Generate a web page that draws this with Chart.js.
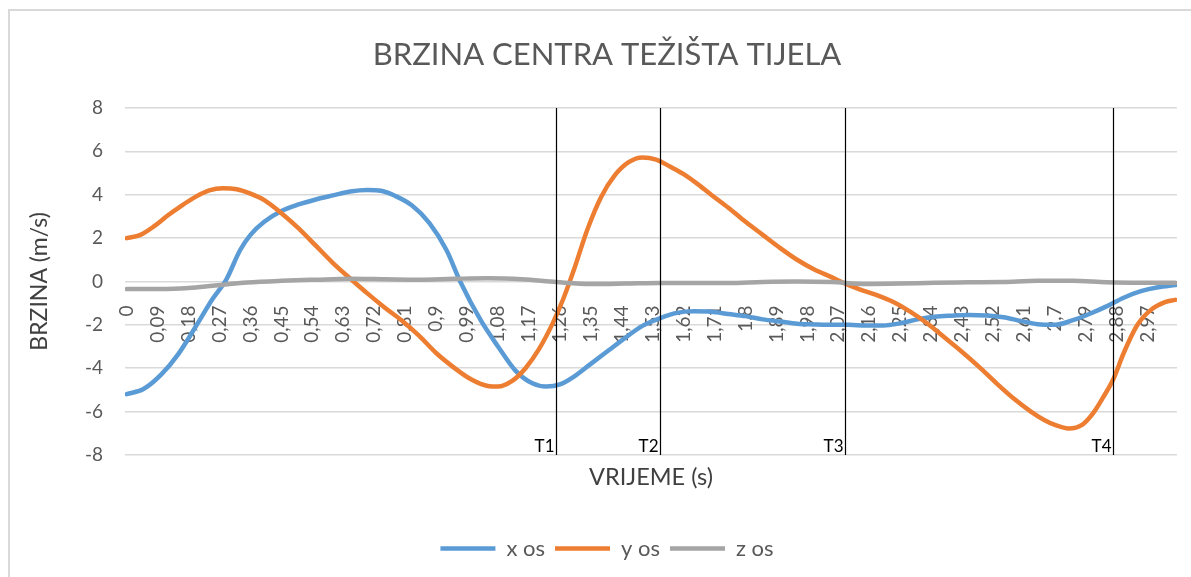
<!DOCTYPE html>
<html>
<head>
<meta charset="utf-8">
<title>Brzina centra težišta tijela</title>
<script src="https://cdn.jsdelivr.net/npm/chart.js@4.4.1/dist/chart.umd.min.js"></script>
<style>
  body { margin: 0; background: #fff; overflow: hidden; }
  #frame { position: absolute; left: 8px; top: 9px; width: 1400px; height: 800px;
           border-left: 2px solid #d9d9d9; border-top: 2px solid #d9d9d9; }
  #wrap { position: absolute; left: 0; top: 0; width: 1191px; height: 577px; }
</style>
</head>
<body>
<div id="frame"></div>
<div id="wrap"><canvas id="chart"></canvas></div>
<script>
// time (s) and velocity (m/s)
const xosT = [0, 0.05, 0.10, 0.15, 0.20, 0.25, 0.29, 0.33, 0.36, 0.40, 0.45, 0.50, 0.55, 0.60, 0.65, 0.70, 0.74, 0.78,
  0.83, 0.88, 0.93, 0.97, 1.03, 1.08, 1.13, 1.18, 1.22, 1.26, 1.30, 1.35, 1.40, 1.45, 1.50, 1.55, 1.60, 1.65,
  1.70, 1.75, 1.80, 1.85, 1.90, 1.95, 2.00, 2.05, 2.10, 2.15, 2.20, 2.25, 2.30, 2.35, 2.40, 2.45, 2.50, 2.55,
  2.60, 2.65, 2.70, 2.75, 2.80, 2.85, 2.90, 2.95, 3.00, 3.05];
const xosV = [-5.2, -4.95, -4.3, -3.35, -2.1, -0.8, 0.1, 1.45, 2.15, 2.75, 3.25, 3.55, 3.78, 3.97, 4.15, 4.22, 4.18, 3.95,
  3.5, 2.7, 1.45, 0.0, -1.8, -3.0, -4.1, -4.7, -4.85, -4.75, -4.4, -3.8, -3.2, -2.6, -2.05, -1.7, -1.45, -1.38,
  -1.4, -1.5, -1.6, -1.75, -1.85, -1.95, -1.98, -2.0, -2.0, -2.03, -2.03, -1.93, -1.75, -1.63, -1.58, -1.55, -1.57, -1.65,
  -1.82, -1.97, -2.0, -1.8, -1.5, -1.15, -0.75, -0.45, -0.27, -0.17];

const yosT = [0, 0.04, 0.08, 0.12, 0.16, 0.20, 0.24, 0.28, 0.32, 0.36, 0.40, 0.45, 0.50, 0.55, 0.60, 0.66, 0.70,
  0.75, 0.80, 0.85, 0.90, 0.95, 1.00, 1.05, 1.08, 1.12, 1.16, 1.20, 1.24, 1.27, 1.30, 1.34, 1.38, 1.42, 1.46,
  1.50, 1.54, 1.58, 1.62, 1.66, 1.70, 1.75, 1.80, 1.85, 1.90, 1.95, 2.00, 2.05, 2.09, 2.13, 2.18, 2.23, 2.28,
  2.33, 2.38, 2.43, 2.48, 2.53, 2.58, 2.63, 2.67, 2.70, 2.74, 2.78, 2.81, 2.84, 2.87, 2.90, 2.94, 2.98, 3.02, 3.05];
const yosV = [2.0, 2.15, 2.55, 3.05, 3.5, 3.9, 4.2, 4.3, 4.25, 4.05, 3.75, 3.15, 2.45, 1.65, 0.85, 0.0, -0.55,
  -1.2, -1.8, -2.5, -3.3, -3.95, -4.5, -4.82, -4.85, -4.6, -4.0, -3.1, -1.9, -0.8, 0.5, 2.4, 3.9, 4.9, 5.5,
  5.72, 5.62, 5.3, 4.95, 4.5, 4.0, 3.4, 2.75, 2.15, 1.55, 1.0, 0.55, 0.2, -0.1, -0.35, -0.62, -0.95, -1.4,
  -1.95, -2.6, -3.25, -3.95, -4.7, -5.4, -6.0, -6.4, -6.62, -6.78, -6.6, -6.1, -5.35, -4.5, -3.3, -2.0, -1.3, -0.95, -0.85];

const zosT = [0, 0.10, 0.18, 0.25, 0.35, 0.45, 0.55, 0.65, 0.75, 0.85, 0.95, 1.05, 1.15, 1.25, 1.35, 1.45, 1.55,
  1.65, 1.75, 1.85, 1.95, 2.05, 2.15, 2.25, 2.35, 2.45, 2.55, 2.65, 2.75, 2.85, 2.95, 3.05];
const zosV = [-0.35, -0.35, -0.3, -0.2, -0.05, 0.03, 0.08, 0.12, 0.1, 0.08, 0.12, 0.15, 0.1, -0.03, -0.12, -0.1, -0.07,
  -0.07, -0.07, -0.02, 0.0, -0.03, -0.12, -0.1, -0.06, -0.04, -0.02, 0.03, 0.03, -0.04, -0.06, -0.06];

// category labels shown on the time axis
const tickVals = [0, 0.09, 0.18, 0.27, 0.36, 0.45, 0.54, 0.63, 0.72, 0.81, 0.9, 0.99, 1.08, 1.17, 1.26, 1.35,
  1.44, 1.53, 1.62, 1.71, 1.8, 1.89, 1.98, 2.07, 2.16, 2.25, 2.34, 2.43, 2.52, 2.61, 2.7, 2.79, 2.88, 2.97];

// phase markers
const markT = [1.25, 1.55, 2.09, 2.87];
const markNames = ['T1', 'T2', 'T3', 'T4'];

const FONT = 'Lato, "Open Sans", sans-serif';
const GREY = '#595959';

const toPoints = (ts, vs) => ts.map((t, i) => ({ x: t, y: vs[i] }));
const fmtTime = v => v.toFixed(2).replace(/0+$/, '').replace(/\.$/, '').replace('.', ',');

function lineSet(label, ts, vs, color, order) {
  return {
    label: label,
    data: toPoints(ts, vs),
    borderColor: color,
    backgroundColor: color,
    borderWidth: 4.5,
    pointRadius: 0,
    cubicInterpolationMode: 'monotone',
    borderCapStyle: 'round',
    borderJoinStyle: 'round',
    order: order
  };
}

// vertical T lines with their labels
const markerPlugin = {
  id: 'markers',
  afterDatasetsDraw(chart) {
    const { ctx, chartArea, scales } = chart;
    ctx.save();
    ctx.strokeStyle = '#000';
    ctx.lineWidth = 1.2;
    ctx.fillStyle = '#000';
    ctx.font = '17px ' + FONT;
    ctx.textAlign = 'right';
    ctx.textBaseline = 'alphabetic';
    markT.forEach((t, i) => {
      const x = Math.round(scales.x.getPixelForValue(t)) + 0.5;
      ctx.beginPath();
      ctx.moveTo(x, chartArea.top);
      ctx.lineTo(x, chartArea.bottom);
      ctx.stroke();
      ctx.fillText(markNames[i], x - 2, chartArea.bottom - 3);
    });
    ctx.restore();
  }
};

const ctx = document.getElementById('chart').getContext('2d');

new Chart(ctx, {
  type: 'line',
  data: {
    datasets: [
      lineSet('x os', xosT, xosV, '#5b9bd5', 3),
      lineSet('y os', yosT, yosV, '#ed7d31', 2),
      lineSet('z os', zosT, zosV, '#a5a5a5', 1)
    ]
  },
  options: {
    responsive: true,
    maintainAspectRatio: false,
    animation: false,
    layout: {
      padding: { left: 37, right: 14, top: 0, bottom: 7.5 }
    },
    plugins: {
      title: {
        display: true,
        text: 'BRZINA CENTRA TEŽIŠTA TIJELA',
        color: GREY,
        font: { family: FONT, size: 31, weight: 'normal' },
        padding: { top: 36.4, bottom: 34.4 }
      },
      legend: {
        position: 'bottom',
        labels: {
          color: GREY,
          font: { family: FONT, size: 22 },
          usePointStyle: true,
          pointStyle: 'line',
          pointStyleWidth: 55,
          padding: 10,
          sort: (a, b) => a.datasetIndex - b.datasetIndex
        }
      },
      tooltip: { enabled: false }
    },
    scales: {
      x: {
        type: 'linear',
        axis: 'x',
        position: { y: 0 },
        min: -0.005,
        max: 3.055,
        afterBuildTicks: s => { s.ticks = tickVals.map(v => ({ value: v })); },
        afterFit: s => { s.height = 0; },
        grid: { display: false },
        border: { display: false },
        ticks: {
          autoSkip: false,
          minRotation: 90,
          maxRotation: 90,
          padding: 16,
          color: GREY,
          font: { family: FONT, size: 19 },
          callback: v => fmtTime(v)
        }
      },
      x2: {
        type: 'linear',
        axis: 'x',
        position: 'bottom',
        min: 0,
        max: 1,
        grid: { display: false },
        border: { display: false },
        ticks: { display: false },
        title: {
          display: true,
          text: 'VRIJEME (s)',
          color: '#404040',
          font: { family: FONT, size: 23.5 },
          padding: { top: 0, bottom: 36.4 }
        }
      },
      y: {
        min: -8,
        max: 8,
        afterFit: s => { s.width = 88; },
        grid: { color: '#d9d9d9', lineWidth: 1.5, drawTicks: false },
        border: { display: false },
        ticks: {
          stepSize: 2,
          padding: 22,
          color: GREY,
          font: { family: FONT, size: 19 }
        },
        title: {
          display: true,
          text: 'BRZINA (m/s)',
          color: '#404040',
          font: { family: FONT, size: 23 },
          padding: { top: -10.8, bottom: 0 }
        }
      }
    }
  },
  plugins: [markerPlugin]
});
</script>
</body>
</html>
